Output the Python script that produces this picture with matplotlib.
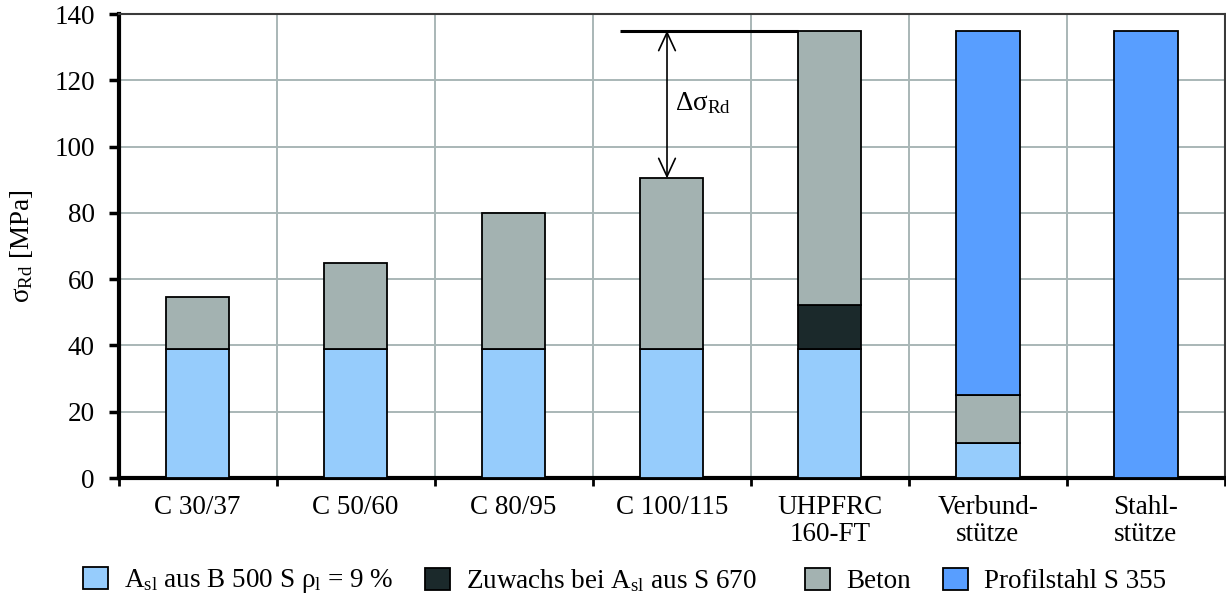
import matplotlib
matplotlib.use("Agg")
import matplotlib.pyplot as plt
from matplotlib.patches import Patch
import numpy as np

plt.rcParams["font.family"] = ["Liberation Serif", "DejaVu Serif"]
plt.rcParams["mathtext.fontset"] = "custom"
plt.rcParams["mathtext.rm"] = "Liberation Serif"
plt.rcParams["mathtext.it"] = "Liberation Serif:italic"

# Column types
categories = ["C 30/37", "C 50/60", "C 80/95", "C 100/115",
              "UHPFRC\n160-FT", "Verbund-\nstütze", "Stahl-\nstütze"]

# Stacked resistance contributions [MPa]
rebar_b500 = [38.8, 38.8, 38.8, 38.8, 38.8, 10.6, 0.0]
gain_s670 = [0.0, 0.0, 0.0, 0.0, 13.4, 0.0, 0.0]
concrete = [15.7, 26.1, 41.3, 51.6, 82.8, 14.5, 0.0]
profile_s355 = [0.0, 0.0, 0.0, 0.0, 0.0, 109.9, 135.0]

series_labels = [
    "A$_\\mathregular{sl}$ aus B 500 S ρ$_\\mathregular{l}$ = 9 %",
    "Zuwachs bei A$_\\mathregular{sl}$ aus S 670",
    "Beton",
    "Profilstahl S 355",
]
series_colors = ["#96CCFC", "#1B292B", "#A3B2B1", "#589EFF"]

y_ticks = [0, 20, 40, 60, 80, 100, 120, 140]

FS = 19.5
fig = plt.figure(figsize=(12.26, 5.98), dpi=100)
ax = fig.add_axes([118.5 / 1226, 1 - 478 / 598, (1225 - 118.5) / 1226, (478 - 14) / 598])

x = np.arange(len(categories))
width = 0.4
bottom = np.zeros(len(categories))
for vals, col in zip([rebar_b500, gain_s670, concrete, profile_s355], series_colors):
    vals = np.asarray(vals)
    mask = vals > 0
    ax.bar(x[mask], vals[mask], width, bottom=bottom[mask], color=col,
           edgecolor="black", linewidth=1.3, zorder=3)
    bottom += vals

ax.set_xlim(-0.5, len(categories) - 0.5)
ax.set_ylim(0, 140)
ax.set_yticks(y_ticks)
ax.set_xticks(x)
ax.set_xticklabels(categories, fontsize=FS, linespacing=1.1)
ax.set_xticks(np.arange(-0.5, len(categories)), minor=True)
ax.tick_params(axis="x", which="major", length=0, pad=12)
ax.tick_params(axis="x", which="minor", length=6, width=2, direction="out")
ax.tick_params(axis="y", which="major", length=7, width=2.5, pad=10, labelsize=FS)

ax.grid(True, which="major", axis="y", color="#A9B7B7", linewidth=1.4, zorder=0)
ax.grid(True, which="minor", axis="x", color="#A9B7B7", linewidth=1.4, zorder=0)
ax.set_axisbelow(True)

for side in ["left", "bottom"]:
    ax.spines[side].set_linewidth(3)
    ax.spines[side].set_color("black")
for side in ["top", "right"]:
    ax.spines[side].set_linewidth(1.5)
    ax.spines[side].set_color("#3A3A3A")

ax.set_ylabel("σ$_\\mathregular{Rd}$ [MPa]", fontsize=FS, labelpad=14)

# Difference marker between C 100/115 and UHPFRC
total = np.array(rebar_b500) + np.array(gain_s670) + np.array(concrete) + np.array(profile_s355)
top_uhp = total[4]
top_c100 = total[3]
ax.plot([2.67, 4 - width / 2], [top_uhp, top_uhp], color="black", linewidth=2.2, zorder=4,
        solid_capstyle="butt")
ax.annotate("", xy=(2.97, top_uhp), xytext=(2.97, top_c100),
            arrowprops=dict(arrowstyle="<->,head_length=1.3,head_width=0.6",
                            color="black", linewidth=1.2, shrinkA=0, shrinkB=0),
            zorder=5)
ax.text(3.02, 111, "Δσ$_\\mathregular{Rd}$", fontsize=FS, ha="left", va="baseline", zorder=5)

# Legend entries placed along the bottom
legend_x = [83.3, 425, 805, 943]
for lbl, col, lx in zip(series_labels, series_colors, legend_x):
    fig.legend(handles=[Patch(facecolor=col, edgecolor="black", linewidth=1.3)],
               labels=[lbl], loc="center left",
               bbox_to_anchor=(lx / 1226, 1 - 581 / 598),
               frameon=False, fontsize=FS, handlelength=0.92, handleheight=0.88,
               handletextpad=0.6, borderpad=0, borderaxespad=0)

fig.savefig("out.png", dpi=100)
